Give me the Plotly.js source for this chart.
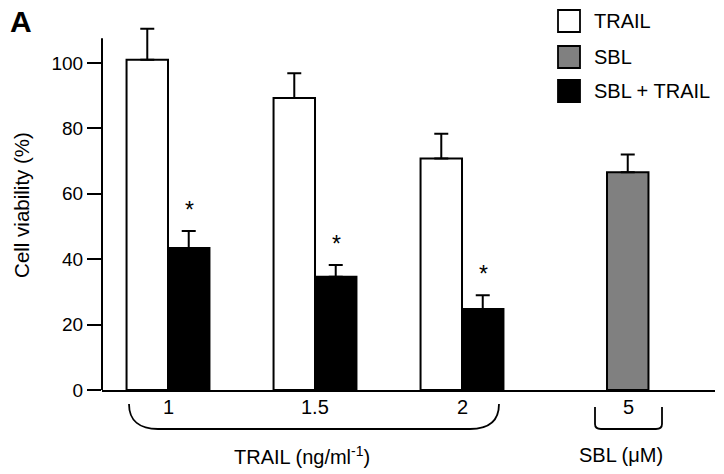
<!DOCTYPE html>
<html>
<head>
<meta charset="utf-8">
<script src="https://cdn.plot.ly/plotly-3.0.1.min.js"></script>
<style>html,body{margin:0;padding:0;background:#fff;}#chart{width:724px;height:474px;}</style>
</head>
<body>
<div id="chart"></div>
<script>
// ---- data ----
var trailDoses = ['1', '1.5', '2'];
var sblDoses = ['5'];
var seriesNames = ['TRAIL', 'SBL', 'SBL + TRAIL'];
var trailValues = [101, 89.3, 70.8];
var trailErrors = [9.5, 7.6, 7.6];
var comboValues = [43.4, 34.6, 24.8];
var comboErrors = [5.2, 3.6, 4.2];
var sblValues = [66.6];
var sblErrors = [5.4];
var significant = [true, true, true];
var yTickValues = [0, 20, 40, 60, 80, 100];
var xGroupTitles = ['TRAIL (ng/ml<sup>-1</sup>)', 'SBL (\u03bcM)'];

// ---- layout helpers (pixel -> paper) ----
var L = 102, R = 715, T = 20, B = 390;
var Y_TOP = 113.15, AXIS_TOP = 107.6;
function px(x) { return (x - L) / (R - L); }
function py(y) { return (B - y) / (B - T); }

var FONT = 'Liberation Sans, Arial, sans-serif';
var BW = 0.282;
var colors = ['#ffffff', '#808080', '#000000'];

function errBar(arr) {
  return {type: 'data', array: arr, arrayminus: arr.map(function(){return 0;}), symmetric: false,
          visible: true, color: '#000', thickness: 2, width: 7};
}

var traces = [
  {type: 'bar', name: seriesNames[0], x: trailDoses, y: trailValues, offset: -BW, width: BW,
   marker: {color: colors[0], line: {color: '#000', width: 2}}, error_y: errBar(trailErrors)},
  {type: 'bar', name: seriesNames[2], x: trailDoses, y: comboValues, offset: 0, width: BW,
   marker: {color: colors[2], line: {color: '#000', width: 2}}, error_y: errBar(comboErrors)},
  {type: 'bar', name: seriesNames[1], x: sblDoses, y: sblValues, offset: -0.0136, width: BW,
   marker: {color: colors[1], line: {color: '#000', width: 2}}, error_y: errBar(sblErrors)}
];

var annotations = [];
var shapes = [];

// y axis line (stops at the top of the value scale, as in the reference)
shapes.push({type: 'line', xref: 'paper', yref: 'y', x0: 0, x1: 0, y0: 0, y1: AXIS_TOP,
  line: {color: '#000', width: 2}});

// significance asterisks (x given as category index)
trailDoses.forEach(function(d, i) {
  if (!significant[i]) return;
  annotations.push({x: i, y: comboValues[i] + comboErrors[i], xref: 'x', yref: 'y',
    text: '*', showarrow: false, xshift: 21, yshift: 21, yanchor: 'middle', xanchor: 'center',
    font: {family: FONT, size: 23, color: '#000'}});
});

// x tick labels (as annotations, x = category index)
var allCats = trailDoses.concat(sblDoses);
allCats.forEach(function(c, i) {
  annotations.push({x: i, y: py(407), xref: 'x', yref: 'paper', text: c, showarrow: false,
    xshift: (i === allCats.length - 1) ? 19 : 0, yanchor: 'middle', xanchor: 'center',
    font: {family: FONT, size: 20, color: '#000'}});
});

// group titles
annotations.push({x: px(302), y: py(455), xref: 'paper', yref: 'paper', text: xGroupTitles[0],
  showarrow: false, yanchor: 'middle', xanchor: 'center', font: {family: FONT, size: 20, color: '#000'}});
annotations.push({x: px(621), y: py(455), xref: 'paper', yref: 'paper', text: xGroupTitles[1],
  showarrow: false, yanchor: 'middle', xanchor: 'center', font: {family: FONT, size: 20, color: '#000'}});

// panel label
annotations.push({x: px(8), y: py(22), xref: 'paper', yref: 'paper', text: '<b>A</b>',
  showarrow: false, xanchor: 'left', yanchor: 'middle', font: {family: FONT, size: 30, color: '#000'}});

// braces
function P(x, y) { return px(x).toFixed(5) + ',' + py(y).toFixed(5); }
shapes.push({type: 'path', xref: 'paper', yref: 'paper', line: {color: '#000', width: 1.8},
  path: 'M' + P(129, 404) + ' C' + P(129, 421) + ' ' + P(140, 429) + ' ' + P(158, 429) +
        ' L' + P(470, 429) + ' C' + P(489, 429) + ' ' + P(499, 421) + ' ' + P(499, 404)});
shapes.push({type: 'path', xref: 'paper', yref: 'paper', line: {color: '#000', width: 1.8},
  path: 'M' + P(595, 407) + ' L' + P(595, 424) + ' Q' + P(595, 429) + ' ' + P(601, 429) +
        ' L' + P(656, 429) + ' Q' + P(662, 429) + ' ' + P(662, 424) + ' L' + P(662, 407)});

// custom legend
var legendRows = [
  {name: seriesNames[0], color: colors[0], y0: 10, y1: 32},
  {name: seriesNames[1], color: colors[1], y0: 46, y1: 68},
  {name: seriesNames[2], color: colors[2], y0: 80, y1: 102}
];
legendRows.forEach(function(r) {
  shapes.push({type: 'rect', xref: 'paper', yref: 'paper', x0: px(558), x1: px(580),
    y0: py(r.y1), y1: py(r.y0), fillcolor: r.color, line: {color: '#000', width: 1.8}});
  annotations.push({x: px(592), y: py((r.y0 + r.y1) / 2), xref: 'paper', yref: 'paper',
    text: r.name, showarrow: false, xanchor: 'left', yanchor: 'middle',
    font: {family: FONT, size: 20, color: '#000'}});
});

var layout = {
  width: 724, height: 474,
  margin: {l: L, r: 724 - R, t: T, b: 474 - B},
  paper_bgcolor: '#fff', plot_bgcolor: '#fff',
  showlegend: false,
  barmode: 'overlay',
  font: {family: FONT, size: 19, color: '#000'},
  xaxis: {type: 'category', range: [-0.449, 3.721], showline: true, linecolor: '#000', linewidth: 2,
          ticks: '', showticklabels: false, showgrid: false, zeroline: false, fixedrange: true},
  yaxis: {range: [0, Y_TOP], tickvals: yTickValues, ticktext: yTickValues.map(String),
          showline: false, ticks: 'outside', ticklen: 14,
          tickwidth: 2, tickcolor: '#000', showgrid: false, zeroline: false,
          tickfont: {family: FONT, size: 19, color: '#000'},
          title: {text: 'Cell viability (%)', font: {family: FONT, size: 20.5, color: '#000'}, standoff: 16}},
  annotations: annotations,
  shapes: shapes
};

Plotly.newPlot('chart', traces, layout, {displayModeBar: false, staticPlot: true});
</script>
</body>
</html>
